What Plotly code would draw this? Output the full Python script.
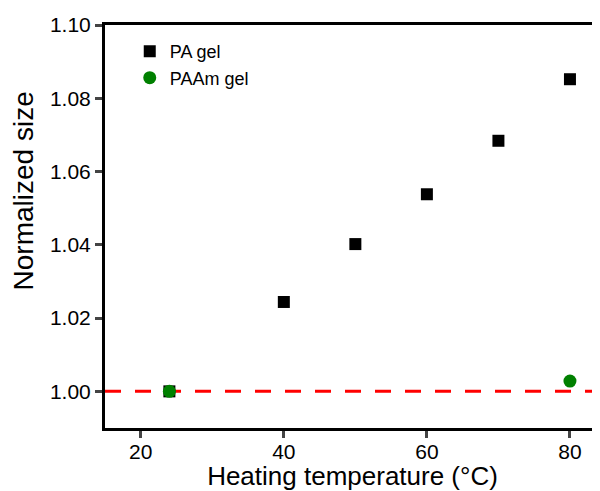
import plotly.graph_objects as go

# Data
pa_temp = [24, 40, 50, 60, 70, 80]
pa_size = [1.000, 1.0244, 1.0402, 1.0538, 1.0684, 1.0852]
paam_temp = [24, 80]
paam_size = [1.000, 1.0028]
ref_level = 1.00
x_ticks = [20, 40, 60, 80]
y_ticks = [1.00, 1.02, 1.04, 1.06, 1.08, 1.10]

FONT = "Liberation Sans, Arial, sans-serif"

fig = go.Figure()
fig.add_hline(y=ref_level, line=dict(color="#ff0000", width=3, dash="16px,14px"), layer="below")
fig.add_trace(go.Scatter(x=pa_temp, y=pa_size, mode="markers", name="PA gel",
                         marker=dict(symbol="square", size=12, color="black")))
fig.add_trace(go.Scatter(x=paam_temp, y=paam_size, mode="markers", name="PAAm gel",
                         marker=dict(symbol="circle", size=13, color="#008000")))

# page body has an 8px margin, so the figure is sized to fit the 600x491 window
fig.update_layout(
    template="none",
    width=592, height=483,
    margin=dict(l=97, r=0, t=17, b=63),
    plot_bgcolor="white", paper_bgcolor="white",
    font=dict(family=FONT, color="black"),
    showlegend=True,
    legend=dict(x=0.05, y=0.98, xanchor="left", yanchor="top",
                bgcolor="rgba(0,0,0,0)", font=dict(size=18, family=FONT),
                tracegroupgap=0),
    xaxis=dict(range=[15, 84.2], tickvals=x_ticks, ticks="outside", ticklen=7, tickwidth=3,
               ticklabelstandoff=-4,
               showline=True, linecolor="black", linewidth=3, mirror=True, automargin=False,
               showgrid=False, zeroline=False, tickfont=dict(size=21),
               title=dict(text="Heating temperature (°C)", font=dict(size=26), standoff=8)),
    yaxis=dict(range=[0.99, 1.10], tickvals=y_ticks, tickformat=".2f", ticks="outside",
               ticklen=7, tickwidth=3, showline=True, linecolor="black", linewidth=3,
               automargin=False,
               showgrid=False, zeroline=False, tickfont=dict(size=21)),
    annotations=[dict(text="Normalized size", textangle=-90, xref="paper", yref="paper",
                      x=-0.164, y=0.589, xanchor="center", yanchor="middle",
                      showarrow=False, font=dict(size=28, family=FONT))],
)

fig.write_html("out.html")
